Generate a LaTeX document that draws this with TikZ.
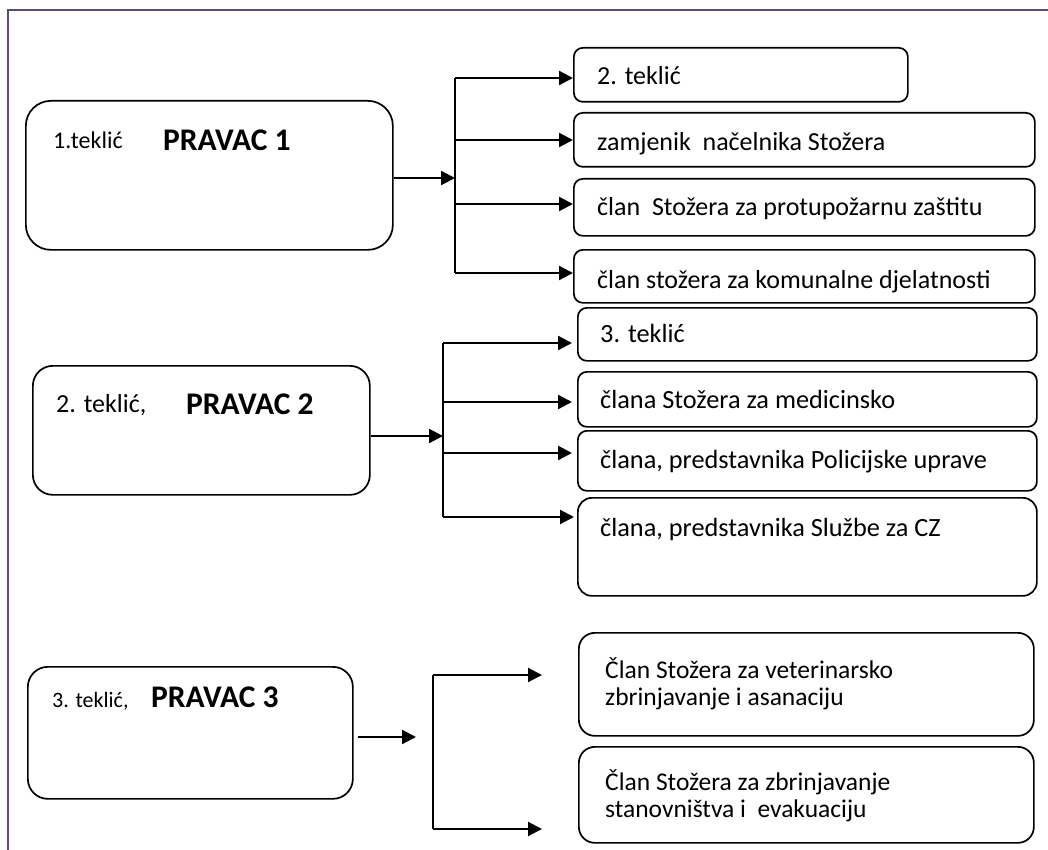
\documentclass[tikz,border=0pt]{standalone}
\usepackage{fontspec}
\setmainfont{Carlito}
\usetikzlibrary{arrows.meta}
\definecolor{framepurple}{HTML}{5F497A}
\begin{document}
\begin{tikzpicture}[x=1pt,y=-1pt,
  box/.style={draw=black, line width=1.7pt, inner sep=0pt, anchor=north west, rounded corners=9pt},
  bigbox/.style={box, rounded corners=22pt},
  lbl/.style={anchor=west, inner sep=0pt, font=\fontsize{26}{26}\selectfont, text height=18pt, text depth=6pt},
  lbltwo/.style={anchor=west, inner sep=0pt, align=left, font=\fontsize{25.5}{27}\selectfont},
  head/.style={anchor=west, inner sep=0pt, font=\fontsize{31.5}{32}\selectfont\bfseries, text height=22pt, text depth=6pt},
  conn/.style={line width=2.2pt, -{Triangle[length=14pt,width=14pt]}},
  trunk/.style={line width=2.2pt}
]
\useasboundingbox (0,0) rectangle (1048,850);
\draw[framepurple, line width=2.2pt] (8,850) -- (8,10) -- (1048,10);

% ---------- group 1 ----------
\node[bigbox, minimum width=367pt, minimum height=149pt, rounded corners=25pt] (P1) at (25,100) {};
\node[lbl, font=\fontsize{24}{24}\selectfont] (P1a) at (53,143) {1.teklić};
\node[head] (P1b) at (163,143) {PRAVAC 1};

\node[box, minimum width=334pt, minimum height=54pt] (B1) at (573,47) {};
\node[box, minimum width=461pt, minimum height=54pt] (B2) at (573,112) {};
\node[box, minimum width=461pt, minimum height=57pt] (B3) at (573,178) {};
\node[box, minimum width=461pt, minimum height=53pt] (B4) at (573,249) {};
\node[lbl] (B1t) at (597,79) {2. teklić};
\node[lbl] (B2t) at (597,145) {zamjenik\ \ načelnika Stožera};
\node[lbl] (B3t) at (597,210) {član\ \ Stožera za protupožarnu zaštitu};
\node[lbl] (B4t) at (597,282) {član stožera za komunalne djelatnosti};

\coordinate (m1) at (455,178);
\coordinate (t1a) at (455,78);
\coordinate (t1b) at (455,140);
\coordinate (t1c) at (455,204);
\coordinate (t1d) at (455,273);
\draw[conn] (P1.east |- m1) -- (m1);
\draw[trunk] (t1a) -- (t1d);
\draw[conn] (t1a) -- (B1.west |- t1a);
\draw[conn] (t1b) -- (B2.west |- t1b);
\draw[conn] (t1c) -- (B3.west |- t1c);
\draw[conn] (t1d) -- (B4.west |- t1d);

% ---------- group 2 ----------
\node[bigbox, minimum width=337pt, minimum height=129pt, rounded corners=20pt] (P2) at (32,365) {};
\node[lbl] (P2a) at (56,406) {2. teklić,};
\node[head] (P2b) at (186,406) {PRAVAC 2};

\node[box, minimum width=459pt, minimum height=53pt] (C1) at (577,307) {};
\node[box, minimum width=459pt, minimum height=55pt] (C2) at (577,371) {};
\node[box, minimum width=459pt, minimum height=60pt] (C3) at (577,430) {};
\node[box, minimum width=459pt, minimum height=98pt, rounded corners=14pt] (C4) at (577,497) {};
\node[lbl, font=\fontsize{26.3}{26}\selectfont] (C1t) at (600,336) {3. teklić};
\node[lbl, font=\fontsize{26.3}{26}\selectfont] (C2t) at (600,402) {člana Stožera za medicinsko};
\node[lbl, font=\fontsize{26.3}{26}\selectfont] (C3t) at (600,462) {člana, predstavnika Policijske uprave};
\node[lbl, font=\fontsize{26.3}{26}\selectfont] (C4t) at (600,530) {člana, predstavnika Službe za CZ};

\coordinate (m2) at (443,436);
\coordinate (t2a) at (443,343);
\coordinate (t2b) at (443,402);
\coordinate (t2c) at (443,453);
\coordinate (t2d) at (443,517);
\draw[conn] (P2.east |- m2) -- (m2);
\draw[trunk] (t2a) -- (t2d);
\draw[conn] (t2a) -- ([xshift=-5pt]C1.west |- t2a);
\draw[conn] (t2b) -- ([xshift=-5pt]C2.west |- t2b);
\draw[conn] (t2c) -- ([xshift=-5pt]C3.west |- t2c);
\draw[conn] (t2d) -- ([xshift=-3pt]C4.west |- t2d);

% ---------- group 3 ----------
\node[bigbox, minimum width=325pt, minimum height=132pt, rounded corners=20pt] (P3) at (27,666) {};
\node[lbl, font=\fontsize{22}{22}\selectfont] (P3a) at (52,701) {3. teklić,};
\node[head] (P3b) at (151,699) {PRAVAC 3};

\node[box, minimum width=455pt, minimum height=103pt, rounded corners=16pt] (D1) at (578,632) {};
\node[box, minimum width=455pt, minimum height=96pt, rounded corners=16pt] (D2) at (578,746) {};
\node[lbltwo] (D1t) at (605,684) {Član Stožera za veterinarsko\\zbrinjavanje i asanaciju};
\node[lbltwo] (D2t) at (605,796) {Član Stožera za zbrinjavanje\\stanovništva i\ \ evakuaciju};

\coordinate (m3) at (416,737);
\coordinate (t3a) at (433,675);
\coordinate (t3b) at (433,829);
\draw[conn] ([xshift=4pt]P3.east |- m3) -- (m3);
\draw[trunk] (t3a) -- (t3b);
\draw[conn] (t3a) -- ([xshift=-36pt]D1.west |- t3a);
\draw[conn] (t3b) -- ([xshift=-36pt]D2.west |- t3b);
\end{tikzpicture}
\end{document}
